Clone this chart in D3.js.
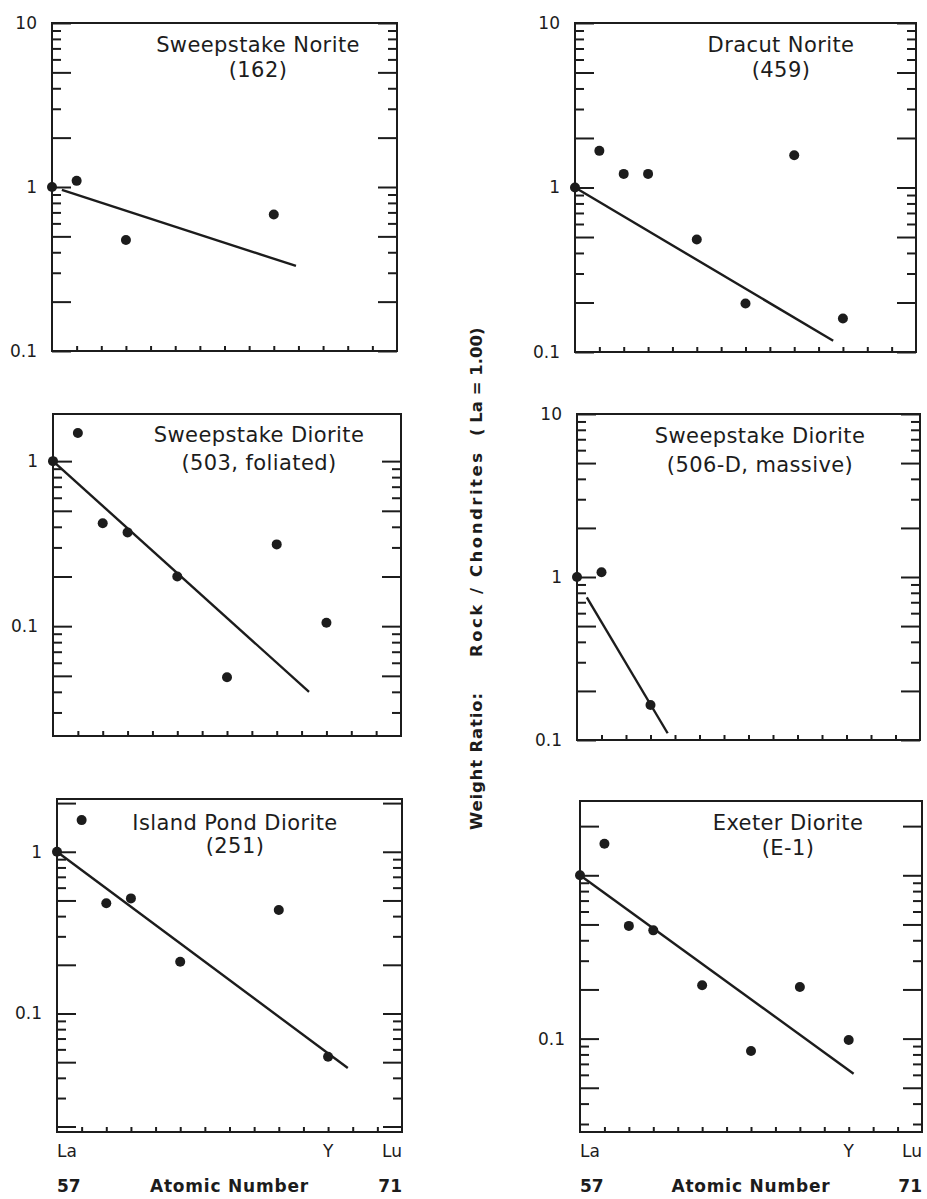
<!DOCTYPE html>
<html>
<head>
<meta charset="utf-8">
<script src="https://cdn.jsdelivr.net/npm/d3@7"></script>
<style>
  body { margin: 0; background: #fff; }
  text { font-family: "DejaVu Sans", sans-serif; fill: #1c1c1c; }
</style>
</head>
<body>
<div id="chart"></div>
<script>
// panel titles and sample numbers
const panelTitles = ["Sweepstake Norite", "Dracut Norite", "Sweepstake Diorite",
                     "Sweepstake Diorite", "Island Pond Diorite", "Exeter Diorite"];
const panelSamples = ["(162)", "(459)", "(503, foliated)", "(506-D, massive)", "(251)", "(E-1)"];

// x axis labels: element symbol, atomic number where it is plotted
const xElements = ["La", "Y", "Lu"];
const xElementPos = [57, 68, 71];
const xNumbers = ["57", "71"];

// [atomic number, rock/chondrite ratio (La = 1.00)]
const norite162 = [[57, 1.0], [58, 1.09], [60, 0.475], [66, 0.68]];
const norite459 = [[57, 1.0], [58, 1.67], [59, 1.21], [60, 1.21], [62, 0.483], [64, 0.197], [66, 1.57], [68, 0.16]];
const diorite503 = [[57, 1.0], [58, 1.48], [59, 0.42], [60, 0.37], [62, 0.20], [64, 0.049], [66, 0.313], [68, 0.105]];
const diorite506D = [[57, 1.0], [58, 1.07], [60, 0.164]];
const diorite251 = [[57, 1.0], [58, 1.57], [59, 0.48], [60, 0.515], [62, 0.209], [66, 0.436], [68, 0.054]];
const dioriteE1 = [[57, 1.0], [58, 1.56], [59, 0.49], [60, 0.46], [62, 0.212], [64, 0.084], [66, 0.207], [68, 0.098]];

// fitted trend lines, start and end
const trend162 = [[57.4, 0.96], [66.9, 0.33]];
const trend459 = [[57, 1.0], [67.6, 0.117]];
const trend503 = [[57, 1.0], [67.3, 0.040]];
const trend506D = [[57.4, 0.75], [60.7, 0.11]];
const trend251 = [[57, 1.0], [68.8, 0.046]];
const trendE1 = [[57, 1.0], [68.2, 0.061]];

// labelled y ticks per panel
const yLabels = [[10, 1, 0.1], [10, 1, 0.1], [1, 0.1], [10, 1, 0.1], [1, 0.1], [0.1]];

const pointSets = [norite162, norite459, diorite503, diorite506D, diorite251, dioriteE1];
const trendSets = [trend162, trend459, trend503, trend506D, trend251, trendE1];

// layout of each frame
const layout = [
  { x0: 52,  x1: 397, y0: 23,  y1: 351,  yDom: [0.1, 10],      tx: 258, ty: [52, 77] },
  { x0: 575, x1: 916, y0: 23,  y1: 352,  yDom: [0.1, 10],      tx: 781, ty: [52, 77] },
  { x0: 53,  x1: 401, y0: 414, y1: 736,  yDom: [0.0216, 1.93], tx: 259, ty: [442, 470] },
  { x0: 577, x1: 920, y0: 414, y1: 740,  yDom: [0.1, 10],      tx: 760, ty: [443, 472] },
  { x0: 57,  x1: 402, y0: 799, y1: 1132, yDom: [0.0185, 2.12], tx: 235, ty: [830, 853] },
  { x0: 580, x1: 922, y0: 801, y1: 1132, yDom: [0.0268, 2.85], tx: 788, ty: [830, 855] }
];

const ink = "#1c1c1c";
const LONG = 19, SHORT = 9;
const svg = d3.select("#chart").append("svg").attr("width", 927).attr("height", 1199);

// 1..9 x 10^e inside the domain
function logTicks(dom) {
  const out = [];
  for (let e = Math.floor(Math.log10(dom[0])); e <= Math.ceil(Math.log10(dom[1])); e++) {
    for (let k = 1; k <= 9; k++) {
      const v = +(k * Math.pow(10, e)).toPrecision(6);
      if (v >= dom[0] * 0.999 && v <= dom[1] * 1.001) out.push(v);
    }
  }
  return out;
}
function isLong(v) {
  const m = Math.round(v / Math.pow(10, Math.floor(Math.log10(v) + 1e-9)));
  return m === 1 || m === 2 || m === 5;
}

function styleAxis(g) {
  g.select(".domain").remove();
  g.selectAll(".tick line").attr("stroke", ink).attr("stroke-width", 2);
  g.selectAll(".tick text").style("font-size", "17px").attr("fill", ink);
}

layout.forEach((p, i) => {
  const x = d3.scaleLinear().domain([57, 71]).range([p.x0, p.x1]);
  const y = d3.scaleLog().domain(p.yDom).range([p.y1, p.y0]);
  const ticks = logTicks(p.yDom);
  const labs = yLabels[i];
  const g = svg.append("g");

  // left axis, ticks pointing inward
  const left = g.append("g").attr("transform", `translate(${p.x0},0)`)
    .call(d3.axisLeft(y).tickValues(ticks).tickSize(-LONG).tickPadding(15)
      .tickFormat(v => labs.some(l => Math.abs(l - v) < 1e-9) ? String(v) : ""));
  styleAxis(left);
  left.selectAll(".tick line").attr("x2", d => isLong(d) ? LONG : SHORT);

  // right axis, ticks pointing inward
  const right = g.append("g").attr("transform", `translate(${p.x1},0)`)
    .call(d3.axisRight(y).tickValues(ticks).tickSize(-LONG).tickFormat(""));
  styleAxis(right);
  right.selectAll(".tick line").attr("x2", d => isLong(d) ? -LONG : -SHORT);

  // bottom axis, one tick per atomic number
  const bottom = g.append("g").attr("transform", `translate(0,${p.y1})`)
    .call(d3.axisBottom(x).tickValues(d3.range(58, 71)).tickSize(-5).tickFormat(""));
  styleAxis(bottom);

  g.append("rect")
    .attr("x", p.x0).attr("y", p.y0)
    .attr("width", p.x1 - p.x0).attr("height", p.y1 - p.y0)
    .attr("fill", "none").attr("stroke", ink).attr("stroke-width", 2);

  // trend line
  g.append("path")
    .datum(trendSets[i])
    .attr("d", d3.line().x(d => x(d[0])).y(d => y(d[1])))
    .attr("fill", "none").attr("stroke", ink).attr("stroke-width", 2.4);

  // data points
  g.selectAll("circle.pt").data(pointSets[i]).join("circle")
    .attr("class", "pt")
    .attr("cx", d => x(d[0])).attr("cy", d => y(d[1]))
    .attr("r", 5).attr("fill", ink);

  // title
  g.append("text").attr("x", p.tx).attr("y", p.ty[0])
    .attr("text-anchor", "middle").style("font-size", "21px").style("letter-spacing", "0.4px")
    .text(panelTitles[i]);
  g.append("text").attr("x", p.tx).attr("y", p.ty[1])
    .attr("text-anchor", "middle").style("font-size", "21px").style("letter-spacing", "0.4px")
    .text(panelSamples[i]);

  // x labels under the bottom row
  if (i >= 4) {
    const anchors = ["start", "middle", "end"];
    xElements.forEach((s, j) => {
      g.append("text").attr("x", x(xElementPos[j])).attr("y", p.y1 + 25)
        .attr("text-anchor", anchors[j]).style("font-size", "17px").text(s);
    });
    g.append("text").attr("x", x(57)).attr("y", p.y1 + 60)
      .attr("text-anchor", "start").style("font-size", "17px").style("font-weight", "bold").text(xNumbers[0]);
    g.append("text").attr("x", x(71)).attr("y", p.y1 + 60)
      .attr("text-anchor", "end").style("font-size", "17px").style("font-weight", "bold").text(xNumbers[1]);
    g.append("text").attr("x", (p.x0 + p.x1) / 2).attr("y", p.y1 + 60)
      .attr("text-anchor", "middle").style("font-size", "17px").style("font-weight", "bold")
      .style("letter-spacing", "0.8px").text("Atomic Number");
  }
});

// shared y axis title, three pieces spaced as in the original
const yTitle = [["Weight Ratio:", 830, 137], ["Rock / Chondrites", 657, 204], ["( La = 1.00)", 436, null]];
yTitle.forEach(([s, yy, len]) => {
  const t = svg.append("text")
    .attr("transform", `translate(482,${yy}) rotate(-90)`)
    .style("font-size", "16.5px").style("font-weight", "bold")
    .text(s);
  if (len) t.attr("textLength", len).attr("lengthAdjust", "spacing");
});
</script>
</body>
</html>
